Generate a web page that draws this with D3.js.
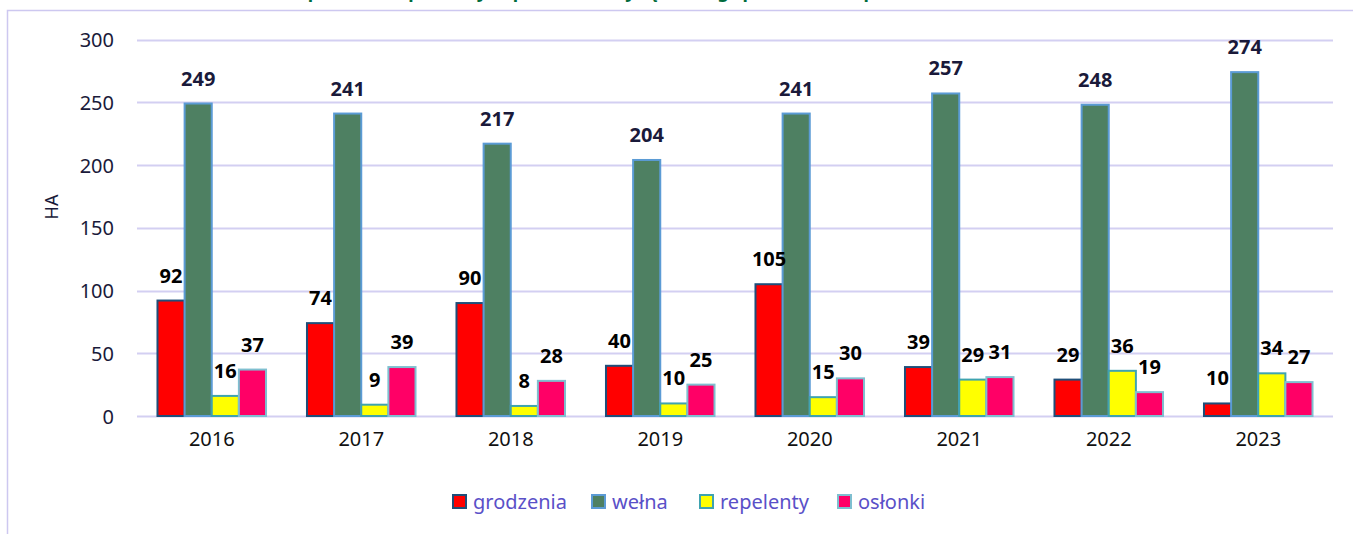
<!DOCTYPE html>
<html>
<head>
<meta charset="utf-8">
<script src="https://cdn.jsdelivr.net/npm/d3@7"></script>
<style>
  body { margin: 0; background: #fff; }
  svg { display: block; font-family: "Noto Sans", sans-serif; }
</style>
</head>
<body>
<div id="chart"></div>
<script>
// data
var years = ["2016", "2017", "2018", "2019", "2020", "2021", "2022", "2023"];
var seriesNames = ["grodzenia", "wełna", "repelenty", "osłonki"];
var grodzenia = [92, 74, 90, 40, 105, 39, 29, 10];
var welna = [249, 241, 217, 204, 241, 257, 248, 274];
var repelenty = [16, 9, 8, 10, 15, 29, 36, 34];
var oslonki = [37, 39, 28, 25, 30, 31, 19, 27];
var yTicks = [0, 50, 100, 150, 200, 250, 300];

var values = [grodzenia, welna, repelenty, oslonki];
var fills = ["#ff0000", "#4e8062", "#ffff00", "#ff0066"];
var strokes = ["#1f4e79", "#5b9bd5", "#3fa3b0", "#7fbfd0"];

function init()
{
  var w = 1353;
  var h = 534;

  var svg = d3.select("#chart")
              .append("svg")
              .attr("width", w)
              .attr("height", h);

  // frame of the chart area (only top and left edge visible)
  svg.append("path")
     .attr("d", "M7.5," + h + "V10.5H" + w)
     .attr("fill", "none")
     .attr("stroke", "#cdc8f0")
     .attr("stroke-width", 1.5);

  // title cut off at the top
  svg.append("text")
     .attr("x", 560)
     .attr("y", -2)
     .attr("text-anchor", "middle")
     .attr("font-size", 18)
     .attr("font-weight", "bold")
     .attr("fill", "#006b3c")
     .text("Powierzchnia upraw zabezpieczonych przed zwierzyną według sposobu zabezpieczenia");

  var x0 = d3.scaleBand()
             .domain(years)
             .range([137, 1333])
             .paddingInner(0.274)
             .paddingOuter(0.137);

  var x1 = d3.scaleBand()
             .domain(d3.range(seriesNames.length))
             .range([0, x0.bandwidth()]);

  var y = d3.scaleLinear()
            .domain([0, 300])
            .range([416, 39.5]);

  // gridlines
  svg.append("g")
     .selectAll("line")
     .data(yTicks)
     .enter()
     .append("line")
     .attr("x1", 137)
     .attr("x2", 1333)
     .attr("y1", function(d){ return Math.round(y(d)) + 0.5; })
     .attr("y2", function(d){ return Math.round(y(d)) + 0.5; })
     .attr("stroke", "#d3cff2")
     .attr("stroke-width", 2);

  // y axis labels
  var yAxis = d3.axisLeft(y).tickValues(yTicks).tickSize(0).tickPadding(0);
  var ya = svg.append("g")
     .attr("transform", "translate(114,0)")
     .call(yAxis);
  ya.select(".domain").remove();
  ya.selectAll("text")
    .attr("font-size", 20)
    .attr("font-family", "Noto Sans, sans-serif")
    .attr("fill", "#1a1a3a")
    .attr("dy", "0.35em");

  svg.append("text")
     .attr("transform", "translate(58,207) rotate(-90)")
     .attr("text-anchor", "middle")
     .attr("font-size", 18)
     .attr("fill", "#1a1a3a")
     .text("HA");

  // x axis labels
  var xAxis = d3.axisBottom(x0).tickSize(0).tickPadding(0);
  var xa = svg.append("g")
     .attr("transform", "translate(0,432)")
     .call(xAxis);
  xa.select(".domain").remove();
  xa.selectAll("text")
    .attr("font-size", 20)
    .attr("font-family", "Noto Sans, sans-serif")
    .attr("fill", "#111")
    .attr("dy", "0.71em");

  // bars
  var groups = svg.append("g")
     .selectAll("g")
     .data(years)
     .enter()
     .append("g")
     .attr("transform", function(d){ return "translate(" + x0(d) + ",0)"; });

  groups.selectAll("rect")
     .data(function(d, i){
        return values.map(function(v, s){ return {s: s, v: v[i]}; });
     })
     .enter()
     .append("rect")
     .attr("x", function(d){ return x1(d.s); })
     .attr("y", function(d){ return y(d.v); })
     .attr("width", x1.bandwidth())
     .attr("height", function(d){ return y(0) - y(d.v); })
     .attr("fill", function(d){ return fills[d.s]; })
     .attr("stroke", function(d){ return strokes[d.s]; })
     .attr("stroke-width", 2);

  // value labels
  groups.selectAll("text.val")
     .data(function(d, i){
        return values.map(function(v, s){ return {s: s, v: v[i]}; });
     })
     .enter()
     .append("text")
     .attr("class", "val")
     .attr("x", function(d){ return x1(d.s) + x1.bandwidth() / 2; })
     .attr("y", function(d){ return y(d.v) - 18; })
     .attr("text-anchor", "middle")
     .attr("font-size", 20)
     .attr("font-weight", "bold")
     .attr("fill", function(d){ return d.s == 1 ? "#1a1a3a" : "#000"; })
     .text(function(d){ return d.v; });

  // legend
  var legendX = [453, 592, 700, 838];
  var legend = svg.append("g")
     .selectAll("g")
     .data(seriesNames)
     .enter()
     .append("g")
     .attr("transform", function(d, i){ return "translate(" + legendX[i] + ",495)"; });

  legend.append("rect")
     .attr("width", 13)
     .attr("height", 13)
     .attr("fill", function(d, i){ return fills[i]; })
     .attr("stroke", function(d, i){ return strokes[i]; })
     .attr("stroke-width", 2);

  legend.append("text")
     .attr("x", 20)
     .attr("y", 7)
     .attr("dy", "0.35em")
     .attr("font-size", 20)
     .attr("fill", "#5a50c8")
     .text(function(d){ return d; });
}

window.onload = init;
</script>
</body>
</html>
